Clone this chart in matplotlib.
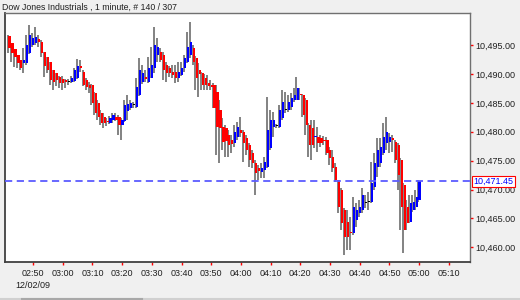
import matplotlib.pyplot as plt
import matplotlib.transforms as mtransforms
from matplotlib.ticker import FuncFormatter
from matplotlib.lines import Line2D

plt.rcParams['font.family'] = ['Liberation Sans', 'DejaVu Sans']

title = 'Dow Jones Industrials , 1 minute, # 140 / 307'
date_label = '12/02/09'
start_time = '02:42'   # time of the first bar, one bar per minute
last_price = 10471.45

opens = [10496.6, 10495.3, 10494.3, 10493.3, 10492.4, 10491.9, 10491.9, 10493.6, 10495.0, 10495.3,
         10496.0, 10495.5, 10493.8, 10492.9, 10492.1, 10490.7, 10490.2, 10489.5, 10489.1, 10488.9,
         10488.6, 10488.6, 10488.8, 10489.3, 10491.4, 10490.3, 10488.9, 10488.1, 10488.1, 10486.7,
         10485.0, 10483.2, 10482.5, 10481.9, 10481.5, 10482.0, 10482.5, 10482.5, 10481.2, 10481.9,
         10483.6, 10484.1, 10484.6, 10484.3, 10486.3, 10488.6, 10489.5, 10488.6, 10489.3, 10491.0,
         10493.3, 10493.8, 10493.3, 10491.5, 10491.0, 10490.3, 10490.3, 10489.3, 10489.8, 10491.0,
         10492.1, 10493.3, 10494.5, 10492.8, 10490.7, 10490.2, 10489.3, 10488.4, 10488.1, 10488.1,
         10486.9, 10483.8, 10480.8, 10480.6, 10479.4, 10478.6, 10478.0, 10479.1, 10480.3, 10479.9,
         10478.9, 10477.7, 10476.3, 10474.6, 10473.7, 10473.0, 10473.4, 10473.9, 10477.2, 10480.8,
         10481.0, 10480.8, 10482.4, 10483.8, 10483.8, 10484.3, 10485.5, 10485.5, 10486.5, 10486.3,
         10485.5, 10481.2, 10480.6, 10479.1, 10479.1, 10478.9, 10478.6, 10478.6, 10476.8, 10475.6,
         10473.9, 10471.7, 10469.9, 10466.5, 10464.4, 10462.6, 10462.5, 10464.7, 10465.9, 10466.5,
         10467.7, 10467.8, 10467.8, 10470.4, 10473.9, 10474.6, 10476.3, 10478.0, 10478.2, 10478.9,
         10478.2, 10477.7, 10475.1, 10470.8, 10467.0, 10464.4, 10466.5, 10467.0, 10468.2]
highs = [10496.8, 10495.3, 10494.3, 10493.3, 10492.4, 10494.5, 10496.7, 10498.5, 10497.1, 10498.1,
         10496.7, 10495.9, 10493.8, 10492.9, 10492.1, 10490.7, 10490.2, 10489.6, 10489.6, 10489.1,
         10489.1, 10489.6, 10491.0, 10492.6, 10492.4, 10490.7, 10489.3, 10488.6, 10488.3, 10486.9,
         10485.5, 10483.8, 10483.2, 10482.4, 10482.7, 10483.2, 10483.2, 10482.9, 10482.4, 10485.5,
         10486.3, 10485.5, 10485.1, 10489.3, 10492.8, 10491.5, 10490.7, 10492.9, 10494.7, 10498.1,
         10496.2, 10494.5, 10493.8, 10492.1, 10491.4, 10491.5, 10491.5, 10492.1, 10492.1, 10493.3,
         10497.2, 10499.0, 10495.0, 10493.1, 10491.9, 10490.3, 10490.0, 10489.8, 10488.9, 10488.4,
         10488.1, 10485.5, 10482.4, 10481.2, 10480.3, 10479.4, 10481.2, 10481.7, 10482.5, 10480.3,
         10479.4, 10478.0, 10476.8, 10475.1, 10474.2, 10474.6, 10475.6, 10486.0, 10483.8, 10483.4,
         10481.3, 10484.6, 10487.2, 10486.9, 10486.3, 10486.7, 10487.6, 10489.5, 10487.6, 10486.5,
         10485.8, 10481.5, 10482.0, 10482.0, 10480.8, 10479.4, 10479.3, 10479.1, 10477.4, 10476.8,
         10474.6, 10471.7, 10470.3, 10466.8, 10466.5, 10465.2, 10468.7, 10467.7, 10468.2, 10470.3,
         10469.1, 10469.6, 10474.8, 10476.3, 10478.9, 10478.9, 10481.5, 10482.5, 10479.8, 10479.4,
         10478.6, 10478.0, 10475.4, 10471.1, 10468.2, 10469.1, 10469.1, 10469.9, 10471.7]
lows = [10493.6, 10492.1, 10491.2, 10491.0, 10490.7, 10490.2, 10491.5, 10493.4, 10494.7, 10495.0,
        10494.7, 10492.9, 10489.5, 10490.2, 10488.1, 10487.2, 10487.9, 10487.6, 10487.2, 10487.6,
        10488.1, 10488.4, 10488.6, 10489.1, 10490.3, 10487.9, 10487.2, 10486.7, 10484.6, 10482.9,
        10482.0, 10481.2, 10480.6, 10481.0, 10481.3, 10481.5, 10481.9, 10479.4, 10478.6, 10481.7,
        10482.0, 10483.8, 10484.1, 10484.1, 10486.2, 10488.3, 10488.6, 10488.4, 10489.3, 10490.2,
        10492.1, 10492.1, 10488.9, 10488.6, 10489.5, 10489.3, 10488.4, 10488.6, 10489.6, 10490.3,
        10491.9, 10492.8, 10491.5, 10487.2, 10486.0, 10487.2, 10487.2, 10487.2, 10487.2, 10484.1,
        10476.0, 10474.6, 10476.8, 10475.6, 10475.6, 10476.3, 10477.4, 10478.6, 10479.1, 10474.8,
        10476.0, 10473.9, 10473.7, 10469.1, 10471.7, 10472.0, 10472.0, 10473.7, 10476.8, 10479.1,
        10480.6, 10480.6, 10482.0, 10483.2, 10483.4, 10483.8, 10485.1, 10485.5, 10485.5, 10482.5,
        10479.4, 10475.6, 10475.1, 10477.2, 10476.5, 10477.4, 10477.7, 10476.0, 10474.2, 10473.0,
        10471.3, 10465.9, 10463.0, 10458.7, 10459.5, 10459.5, 10462.1, 10463.5, 10465.2, 10465.9,
        10466.8, 10466.5, 10467.7, 10469.9, 10472.2, 10473.9, 10476.0, 10476.8, 10476.3, 10476.5,
        10474.6, 10469.9, 10463.0, 10459.0, 10463.0, 10464.2, 10466.1, 10466.5, 10467.8]
closes = [10494.5, 10493.6, 10492.9, 10491.9, 10491.0, 10492.4, 10495.0, 10496.7, 10496.2, 10496.4,
          10495.5, 10493.6, 10491.4, 10490.7, 10488.9, 10488.6, 10488.9, 10488.4, 10488.4, 10488.6,
          10488.6, 10489.3, 10490.7, 10491.4, 10491.0, 10488.1, 10487.7, 10487.6, 10485.0, 10483.2,
          10482.5, 10481.5, 10481.5, 10481.7, 10482.4, 10482.9, 10482.0, 10481.2, 10482.0, 10484.6,
          10484.8, 10485.0, 10484.6, 10487.7, 10490.7, 10490.2, 10489.1, 10491.0, 10491.5, 10495.0,
          10494.7, 10492.4, 10490.7, 10490.2, 10490.2, 10489.8, 10489.3, 10490.3, 10491.0, 10492.8,
          10494.7, 10495.5, 10492.1, 10489.3, 10490.0, 10488.1, 10488.1, 10487.9, 10487.7, 10484.1,
          10480.8, 10480.6, 10478.2, 10478.4, 10477.7, 10477.9, 10479.9, 10480.8, 10479.8, 10478.0,
          10476.8, 10475.1, 10474.6, 10472.9, 10473.2, 10473.7, 10474.8, 10480.3, 10482.0, 10482.0,
          10481.0, 10483.8, 10485.1, 10483.8, 10485.1, 10485.8, 10486.3, 10487.6, 10486.3, 10482.9,
          10481.2, 10477.7, 10477.7, 10479.3, 10478.0, 10478.0, 10478.4, 10476.3, 10475.4, 10473.7,
          10471.7, 10467.0, 10464.2, 10461.8, 10461.8, 10462.5, 10467.0, 10466.5, 10467.0, 10469.1,
          10467.7, 10467.8, 10471.1, 10474.6, 10476.8, 10477.4, 10479.1, 10479.9, 10479.1, 10478.6,
          10475.1, 10472.5, 10467.0, 10463.0, 10464.2, 10467.7, 10467.8, 10468.7, 10471.45]

yticks = [10460, 10465, 10470, 10475, 10480, 10485, 10490, 10495]
xtick_labels = ['02:50', '03:00', '03:10', '03:20', '03:30', '03:40', '03:50', '04:00',
                '04:10', '04:20', '04:30', '04:40', '04:50', '05:00', '05:10']


def to_min(t):
    h, m = t.split(':')
    return int(h) * 60 + int(m)


t0 = to_min(start_time)
x = list(range(len(closes)))
xticks = [to_min(t) - t0 for t in xtick_labels]

fig = plt.figure(figsize=(5.2, 3.0), dpi=100, facecolor='#f0f0f0')
ax = fig.add_axes([5 / 520, 1 - 262 / 300, 465 / 520, 249 / 300])
ax.set_facecolor('white')

# wicks sit just left of the body
ax.vlines([v - 0.3 for v in x], lows, highs, colors='#606060', linewidth=1.1, zorder=2)

# bodies
colors = []
bottoms = []
heights = []
for o, c in zip(opens, closes):
    if c > o:
        colors.append('#0000ff')
    elif c < o:
        colors.append('#ff0000')
    else:
        colors.append('#000000')
    bottoms.append(min(o, c))
    heights.append(max(abs(c - o), 0.18))
ax.bar([v + 0.12 for v in x], heights, bottom=bottoms, width=0.72, color=colors,
       linewidth=0, zorder=3)

# current price line
ax.axhline(last_price, color='#5c5cff', linestyle=(0, (4, 2.5)), linewidth=1.3, zorder=4)
trans = mtransforms.blended_transform_factory(ax.transAxes, ax.transData)
ax.text(1.0075, last_price, f'{last_price:,.2f}', transform=trans, ha='left', va='center',
        fontsize=6.5, color='#0000ff', zorder=5, clip_on=False,
        bbox=dict(boxstyle='square,pad=0.12', facecolor='white', edgecolor='#ff0000', linewidth=0.8))

ax.set_xlim(-1.41, 155.1)
ax.set_ylim(10457.46, 10500.54)

ax.yaxis.tick_right()
ax.set_yticks(yticks)
ax.yaxis.set_major_formatter(FuncFormatter(lambda v, p: f'{v:,.2f}'))
ax.set_xticks(xticks)
ax.set_xticklabels(xtick_labels)
ax.tick_params(axis='y', direction='out', length=2.5, width=1, color='#ff0000',
               labelsize=6.5, labelcolor='#202020', pad=1)
ax.tick_params(axis='x', direction='out', length=2, width=1, color='#ff0000',
               labelsize=6.5, labelcolor='#202020', pad=3)

for side in ['left', 'bottom']:
    ax.spines[side].set_color('#404040')
    ax.spines[side].set_linewidth(1.3)
for side in ['top', 'right']:
    ax.spines[side].set_color('#707070')
    ax.spines[side].set_linewidth(1.0)

fig.text(2 / 520, 1 - 7 / 300, title, ha='left', va='center', fontsize=6.3, color='#202020')
fig.text(33 / 520, 1 - 286 / 300, date_label, ha='center', va='center', fontsize=6.5, color='#202020')

# scrollbar strip at the bottom edge
fig.add_artist(Line2D([0, 1], [1 - 298.5 / 300] * 2, transform=fig.transFigure,
                      color='#d0d0d0', linewidth=1.5))
fig.add_artist(Line2D([22 / 520, 142 / 520], [1 - 298.5 / 300] * 2, transform=fig.transFigure,
                      color='#a8a8a8', linewidth=1.5))

fig.savefig('out.png', dpi=100, facecolor=fig.get_facecolor())
